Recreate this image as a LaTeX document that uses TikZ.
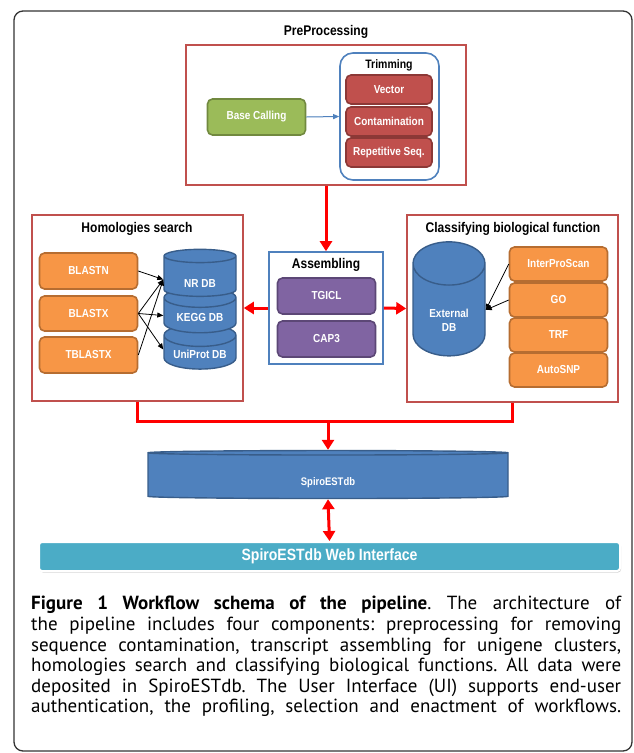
\documentclass[tikz,border=0pt]{standalone}
\usepackage{fontspec}
\setmainfont{Liberation Sans}[FakeStretch=0.86]
\newfontfamily\capfont{PT Sans}
\usetikzlibrary{arrows.meta,shapes.geometric,shadows,positioning}
\frenchspacing

\definecolor{grpred}{HTML}{C0504D}
\definecolor{grpblue}{HTML}{4F81BD}
\definecolor{trimfill}{HTML}{C0504D}
\definecolor{trimline}{HTML}{8C3836}
\definecolor{basefill}{HTML}{9BBB59}
\definecolor{baseline}{HTML}{71893F}
\definecolor{toolfill}{HTML}{F79646}
\definecolor{toolline}{HTML}{B66D31}
\definecolor{asmfill}{HTML}{8064A2}
\definecolor{asmline}{HTML}{5C4776}
\definecolor{dbfill}{HTML}{4F81BD}
\definecolor{dbline}{HTML}{385D8A}
\definecolor{webfill}{HTML}{4BACC6}

% 数据库标签下移
\newcommand{\dblabel}[2]{\raisebox{-#1}[0pt][0pt]{#2}}

\tikzset{
  grpbox/.style={draw=#1, line width=1.6pt, rectangle, inner sep=0pt},
  grptitle/.style={font=\bfseries\fontsize{14}{16}\selectfont},
  toolbox/.style={rectangle, rounded corners=5pt, line width=1.6pt, fill=#1fill, draw=#1line,
    minimum width=98pt, text=white, font=\bfseries\fontsize{11.6}{13}\selectfont, inner sep=0pt},
  dbcyl/.style={cylinder, shape border rotate=90, draw=dbline, fill=dbfill, line width=1.4pt,
    text=white, font=\bfseries\fontsize{11.6}{13}\selectfont, inner sep=0pt, align=center},
  thinarrow/.style={draw=black, line width=0.8pt, -{Triangle[length=6pt,width=5pt]}},
  redline/.style={draw=red, line width=3pt},
  redarrow/.style={redline, -{Triangle[length=10pt,width=12pt]}},
  capline/.style={anchor=base west, inner sep=0pt, font=\capfont\fontsize{19}{21}\selectfont}
}

\begin{document}
\begin{tikzpicture}[x=1pt, y=-1pt]
    \useasboundingbox (0,0) rectangle (633,753);
    % 外框
    \draw[line width=1.3pt, black!80, rounded corners=9pt] (14,11) rectangle (632,751);

    % 预处理
    \node[grptitle] (pretitle) at (326,32) {PreProcessing};
    \node[grpbox=grpred, minimum width=280pt, minimum height=140pt] (prebox) at (326,115) {};
    \node[draw=grpblue, line width=1.6pt, rounded corners=13pt, minimum width=99pt, minimum height=127pt] (trimbox) at (389.5,116.5) {};
    \node[font=\bfseries\fontsize{12.2}{14}\selectfont] (trimtitle) at (389,65) {Trimming};
    \node[toolbox=trim, minimum width=86pt, minimum height=29pt] (vector) at (389,89.5) {Vector};
    \node[toolbox=trim, minimum width=86pt, minimum height=29pt] (contam) at (389,121.5) {Contamination};
    \node[toolbox=trim, minimum width=86pt, minimum height=29pt] (repseq) at (389,152.5) {Repetitive Seq.};
    \node[toolbox=base, minimum height=36pt] (basecall) at (256.5,117) {Base Calling};
    \draw[thinarrow, line width=1pt, draw=grpblue, fill=grpblue] (basecall.east) -- (trimbox.west);

    % 同源搜索
    \node[grpbox=grpred, minimum width=211pt, minimum height=186pt] (homol) at (137.5,308) {};
    \node[grptitle] (homtitle) at (137,229) {Homologies search};
    \node[toolbox=tool, minimum height=36pt] (blastn) at (88.5,271) {BLASTN};
    \node[toolbox=tool, minimum height=35pt] (blastx) at (88.5,313.5) {BLASTX};
    \node[toolbox=tool, minimum height=36pt] (tblastx) at (88.5,355) {TBLASTX};
    \node[dbcyl, minimum width=72pt, minimum height=45pt, aspect=0.42] (uniprot) at (200,352.5) {\dblabel{5.5pt}{UniProt DB}};
    \node[dbcyl, minimum width=72pt, minimum height=45pt, aspect=0.42] (kegg) at (200,315.5) {\dblabel{5.5pt}{KEGG DB}};
    \node[dbcyl, minimum width=72pt, minimum height=47pt, aspect=0.42] (nrdb) at (200,276.5) {\dblabel{10.5pt}{NR DB}};
    \draw[thinarrow] (blastn.east) -- ([yshift=-3pt]nrdb.west);
    \draw[thinarrow] (blastx.east) -- ([yshift=-3pt]nrdb.west);
    \draw[thinarrow] (blastx.east) -- (kegg.west);
    \draw[thinarrow] (blastx.east) -- ([yshift=3pt]uniprot.west);
    \draw[thinarrow] (tblastx.east) -- ([yshift=-3pt]nrdb.west);

    % 组装
    \node[grpbox=grpblue, minimum width=114pt, minimum height=112pt] (assemb) at (326,308) {};
    \node[grptitle] (asmtitle) at (326,265) {Assembling};
    \node[toolbox=asm, minimum height=36pt] (tgicl) at (326.5,296) {TGICL};
    \node[toolbox=asm, minimum height=36pt] (cap3) at (326.5,339) {CAP3};

    % 功能分类
    \node[grpbox=grpred, minimum width=211pt, minimum height=187pt] (classif) at (512.5,308.5) {};
    \node[grptitle] (clstitle) at (513,229) {Classifying biological function};
    \node[dbcyl, minimum width=72pt, minimum height=114pt, aspect=0.72] (extdb) at (449,310)
      {\dblabel{21pt}{\parbox[b]{60pt}{\centering\fontsize{11.6}{14}\selectfont External\\DB}}};
    \node[toolbox=tool, minimum height=34pt] (interpro) at (558.5,264) {InterProScan};
    \node[toolbox=tool, minimum height=34pt] (go) at (558.5,300) {GO};
    \node[toolbox=tool, minimum height=34pt] (trf) at (558.5,335) {TRF};
    \node[toolbox=tool, minimum height=34pt] (autosnp) at (558.5,370) {AutoSNP};
    \draw[thinarrow] (interpro.west) -- (extdb.east);
    \draw[thinarrow] (go.west) -- (extdb.east);

    % 数据库与界面
    \node[dbcyl, minimum width=360pt, minimum height=48pt, aspect=0.083, font=\bfseries\fontsize{11}{13}\selectfont] (spiro) at (328,476) {\dblabel{9pt}{SpiroESTdb}};
    \node[rectangle, fill=webfill, draw=white, line width=2pt, rounded corners=3pt, minimum width=581pt, minimum height=29pt,
      drop shadow={shadow xshift=1pt, shadow yshift=-1.5pt, opacity=0.35}, text=white,
      font=\bfseries\fontsize{16.3}{18}\selectfont] (web) at (329.5,556.5) {SpiroESTdb Web Interface};
    \coordinate (join) at (328,421);

    % 红色连线
    \draw[redarrow] (prebox.south) -- (assemb.north);
    \draw[redarrow] (assemb.west) -- (homol.east);
    \draw[redarrow] (assemb.east) -- (classif.west);
    \draw[redline] (homol.south) |- (join) -| (classif.south);
    \draw[redarrow] (join) -- (spiro.north);
    \draw[redarrow, {Triangle[length=10pt,width=12pt]}-{Triangle[length=10pt,width=12pt]}] (spiro.south) -- (web.north);

    % 图注
    \node[capline] (cap1) at (31,609) {\makebox[590pt][s]{\bfseries Figure 1 Workflow schema of the pipeline\mdseries. The architecture of}};
    \node[capline] (cap2) at (31,630) {\makebox[590pt][s]{the pipeline includes four components: preprocessing for removing}};
    \node[capline] (cap3l) at (31,651) {\makebox[590pt][s]{sequence contamination, transcript assembling for unigene clusters,}};
    \node[capline] (cap4) at (31,671) {\makebox[590pt][s]{homologies search and classifying biological functions. All data were}};
    \node[capline] (cap5) at (31,692) {\makebox[590pt][s]{deposited in SpiroESTdb. The User Interface (UI) supports end-user}};
    \node[capline] (cap6) at (31,712) {\makebox[590pt][s]{authentication, the profiling, selection and enactment of workflows.}};
\end{tikzpicture}
\end{document}
